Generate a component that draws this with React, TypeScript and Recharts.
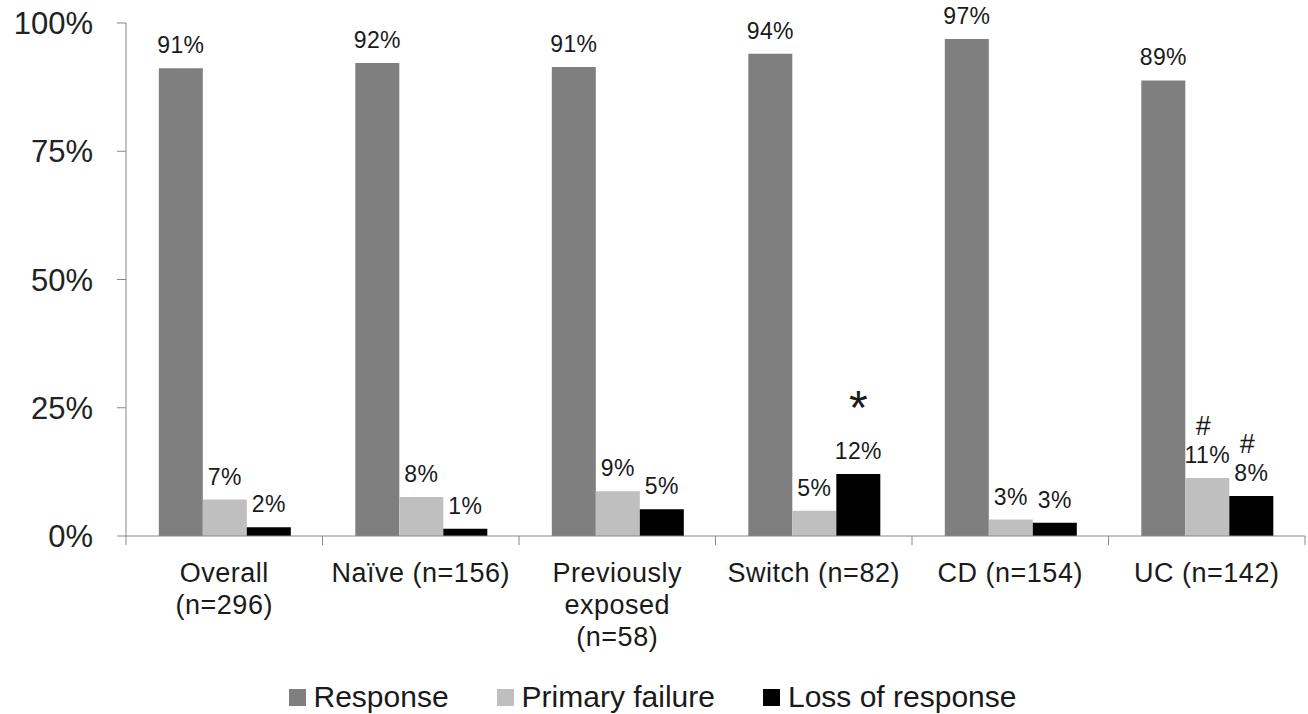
import React from "react";
import { BarChart, Bar, XAxis, YAxis, Legend, LabelList } from "recharts";

const categories = [
  "Overall\n(n=296)",
  "Naïve (n=156)",
  "Previously\nexposed\n(n=58)",
  "Switch (n=82)",
  "CD (n=154)",
  "UC (n=142)",
];
const response = [91.2, 92.2, 91.4, 94.0, 96.9, 88.8];
const primaryFailure = [7.1, 7.6, 8.7, 4.9, 3.2, 11.3];
const lossOfResponse = [1.7, 1.4, 5.2, 12.1, 2.6, 7.8];
// significance markers drawn above some labels
const responseMarks = ["", "", "", "", "", ""];
const primaryMarks = ["", "", "", "", "", "#"];
const lossMarks = ["", "", "", "*", "", "#"];
const yTicks = [0, 25, 50, 75, 100];

const series = [
  { key: "response", name: "Response", color: "#7f7f7f", marks: responseMarks },
  { key: "primary", name: "Primary failure", color: "#bfbfbf", marks: primaryMarks },
  { key: "loss", name: "Loss of response", color: "#000000", marks: lossMarks },
];

const data = categories.map((name, i) => ({
  name,
  response: response[i],
  primary: primaryFailure[i],
  loss: lossOfResponse[i],
}));

const FONT = "'Liberation Sans', Arial, sans-serif";

const makeLabel = (marks: string[]) => (props: any) => {
  const { x, y, width, value, index } = props;
  const cx = Number(x) + Number(width) / 2;
  const base = Number(y) - 15;
  const mark = marks[index];
  return (
    <g>
      <text x={cx} y={base} textAnchor="middle" fontSize={23} fill="#1a1a1a" fontFamily={FONT} letterSpacing={0.4}>
        {Math.round(Number(value))}%
      </text>
      {mark === "*" && (
        <text x={cx} y={base - 35} textAnchor="middle" fontSize={48} fill="#1a1a1a" fontFamily={FONT}>
          *
        </text>
      )}
      {mark === "#" && (
        <text x={cx - 4} y={base - 28} textAnchor="middle" fontSize={27} fill="#1a1a1a" fontFamily={FONT}>
          #
        </text>
      )}
    </g>
  );
};

const CategoryTick = (props: any) => {
  const { x, y, payload, index } = props;
  const half = payload && payload.offset ? payload.offset : 98.25;
  const axisY = y - 9;
  const lines = String(payload.value).split("\n");
  return (
    <g>
      <line x1={x - half} x2={x - half} y1={axisY} y2={axisY + 9} stroke="#888" />
      {index === categories.length - 1 && (
        <line x1={x + half} x2={x + half} y1={axisY} y2={axisY + 9} stroke="#888" />
      )}
      <text textAnchor="middle" fontSize={27} fill="#1a1a1a" fontFamily={FONT} letterSpacing={0.5}>
        {lines.map((l, i) => (
          <tspan key={i} x={x} y={axisY + 46 + i * 32}>
            {l}
          </tspan>
        ))}
      </text>
    </g>
  );
};

const LegendContent = () => (
  <div
    style={{
      display: "flex",
      justifyContent: "center",
      alignItems: "center",
      height: 34,
      paddingTop: 16,
      fontFamily: FONT,
      fontSize: 30,
      lineHeight: "34px",
      color: "#1a1a1a",
      gap: 48,
    }}
  >
    {series.map((s) => (
      <div key={s.key} style={{ display: "flex", alignItems: "center" }}>
        <span style={{ width: 17, height: 17, background: s.color, marginRight: 8, display: "inline-block" }} />
        <span>{s.name}</span>
      </div>
    ))}
  </div>
);

export default function App() {
  return (
    <div style={{ position: "absolute", left: 0, top: 0, background: "#fff" }}>
      <BarChart
        width={1308}
        height={714}
        data={data}
        margin={{ top: 23, right: 3, left: 0, bottom: 0 }}
        barCategoryGap="16.7%"
        barGap={0}
        style={{ fontFamily: FONT }}
      >
        <XAxis
          dataKey="name"
          interval={0}
          height={128}
          tickLine={false}
          tickSize={9}
          tickMargin={0}
          axisLine={{ stroke: "#888" }}
          tick={<CategoryTick />}
        />
        <YAxis
          type="number"
          domain={[0, 100]}
          ticks={yTicks}
          tickFormatter={(v) => `${v}%`}
          width={126}
          tickSize={9}
          tickMargin={24}
          axisLine={{ stroke: "#888" }}
          tickLine={{ stroke: "#888" }}
          tick={{ fontSize: 31, fill: "#222", fontFamily: FONT }}
        />
        <Legend verticalAlign="bottom" align="center" height={50} content={<LegendContent />} />
        {series.map((s) => (
          <Bar key={s.key} dataKey={s.key} name={s.name} fill={s.color} isAnimationActive={false}>
            <LabelList dataKey={s.key} content={makeLabel(s.marks)} />
          </Bar>
        ))}
      </BarChart>
    </div>
  );
}
